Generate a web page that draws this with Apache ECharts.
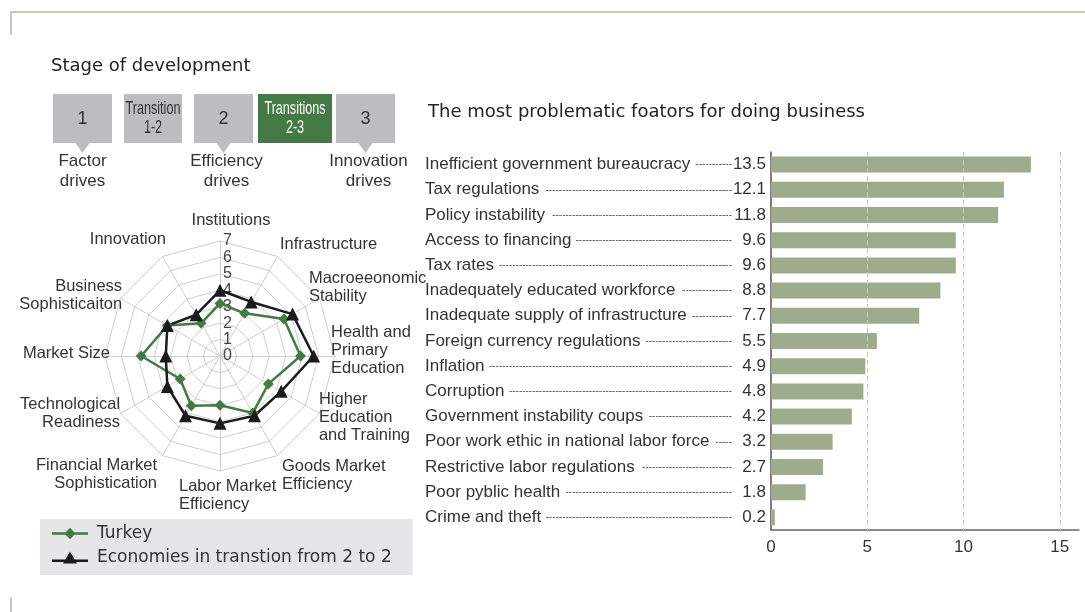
<!DOCTYPE html>
<html>
<head>
<meta charset="utf-8">
<title>Stage of development / problematic factors</title>
<script src="https://cdn.jsdelivr.net/npm/echarts@6/dist/echarts.min.js"></script>
<style>html,body{margin:0;background:#fff;}</style>
</head>
<body>
<div id="main" style="width:1085px;height:612px;"></div>
<script type="text/javascript">
// radar data (clockwise from the top)
var pillars = ['Institutions', 'Infrastructure', 'Macroeeonomic\nStability', 'Health and\nPrimary\nEducation',
    'Higher\nEducation\nand Training', 'Goods Market\nEfficiency', 'Labor Market\nEfficiency',
    'Financial Market\nSophistication', 'Technological\nReadiness', 'Market Size', 'Business\nSophisticaiton', 'Innovation'];
var turkey = [3.2, 3.0, 4.5, 4.9, 3.4, 4.0, 3.0, 3.5, 2.8, 4.8, 3.7, 2.3];
var transition = [4.0, 3.8, 5.1, 5.7, 4.3, 4.2, 4.1, 4.2, 3.7, 3.3, 3.7, 2.9];
var radarTicks = ['0', '1', '2', '3', '4', '5', '6', '7'];

// bar data
var factors = ['Inefficient government bureaucracy', 'Tax regulations', 'Policy instability', 'Access to financing',
    'Tax rates', 'Inadequately educated workforce', 'Inadequate supply of infrastructure', 'Foreign currency regulations',
    'Inflation', 'Corruption', 'Government instability coups', 'Poor work ethic in national labor force',
    'Restrictive labor regulations', 'Poor pyblic health', 'Crime and theft'];
var factorValues = [13.5, 12.1, 11.8, 9.6, 9.6, 8.8, 7.7, 5.5, 4.9, 4.8, 4.2, 3.2, 2.7, 1.8, 0.2];
var barTicks = [0, 5, 10, 15];

// stage boxes
var stages = ['1', 'Transition\n1-2', '2', 'Transitions\n2-3', '3'];
var stageNotes = ['Factor\ndrives', '', 'Efficiency\ndrives', '', 'Innovation\ndrives'];

var FONT = '"Liberation Sans", Arial, sans-serif';
var WIDE = '"DejaVu Sans", sans-serif';
var GREEN = '#437a45';
var myChart = echarts.init(document.getElementById('main'));

// nudges for the pillar names, same order as pillars [top, right, bottom, left]
var namePad = [[0, 0, 4, 22], [-17, 0, 0, 0], [-27, 0, 0, -15], [-33, 0, 0, -9], [-26, 0, 0, -5], [-2, 0, 0, 2],
    [1, 0, 0, -41], [-3, 3, 0, 0], [-21, -4, 0, 0], [-12, -10, 0, 0], [-19, -6, 0, 0], [-22, -6, 0, 0]];

// echarts radar runs counter-clockwise, so walk the list backwards after the first one
var order = [0];
for (var i = pillars.length - 1; i > 0; i--) order.push(i);
function pick(arr) { return order.map(function (k) { return arr[k]; }); }

var indicators = order.map(function (k, n) {
    var ts = { padding: namePad[k] };
    if (k !== 0) ts.verticalAlign = 'top';
    if (k === 6) ts.align = 'left';
    var ind = { name: pillars[k], max: 7, min: 0, nameTextStyle: ts };
    if (n === 0) ind.axisLabel = { show: true };
    return ind;
});

// leader dashes between factor name and value
var ctx = document.createElement('canvas').getContext('2d');
function textW(s, f) { ctx.font = f; return ctx.measureText(s).width; }
var LABEL_W = 341, VAL_W = 34;
var dashW = textW('-', '10px ' + FONT);

function factorLabel(name, idx) {
    var nw = textW(name, '17px ' + FONT);
    var room = Math.max(0, LABEL_W - VAL_W - nw);
    var n = Math.max(0, Math.floor((room - 4) / dashW));
    return '{n|' + name + '}{d' + idx + '|' + new Array(n + 1).join('-') + '}{v|' + factorValues[idx] + '}';
}
var richLabels = {
    n: { fontSize: 17, color: '#333', fontFamily: FONT },
    v: { fontSize: 17, color: '#333', fontFamily: FONT, width: VAL_W, align: 'right' }
};
factors.forEach(function (name, idx) {
    var nw = textW(name, '17px ' + FONT);
    richLabels['d' + idx] = {
        fontSize: 10, color: '#555', fontFamily: FONT,
        width: Math.max(0, LABEL_W - VAL_W - nw), align: 'right'
    };
});

// stage boxes as graphic
var boxX = [53, 124, 194, 258, 336];
var boxW = [59, 58, 59, 74, 59];
var graphics = [
    { type: 'polyline', shape: { points: [[11, 35], [11, 12], [1085, 12]] }, style: { stroke: '#b3baa3', lineWidth: 1.5, fill: null } },
    { type: 'line', shape: { x1: 11, y1: 597, x2: 11, y2: 612 }, style: { stroke: '#b3baa3', lineWidth: 1.5 } },
    { type: 'text', left: 51, top: 57, style: { text: 'Stage of development', font: '18px ' + WIDE, fill: '#222' } }
];
stages.forEach(function (s, i) {
    var hl = i === 3;
    var cx = boxX[i] + boxW[i] / 2;
    graphics.push({ type: 'rect', shape: { x: boxX[i], y: 94, width: boxW[i], height: 49 }, style: { fill: hl ? GREEN : '#bdbdbf' } });
    var big = s.length === 1;
    graphics.push({
        type: 'text', x: cx, y: 119, scaleX: big ? 1 : 0.7, scaleY: 1,
        style: {
            text: s, align: 'center', verticalAlign: 'middle', lineHeight: 19,
            font: '18px ' + FONT,
            fill: hl ? '#fff' : '#333'
        }
    });
    if (stageNotes[i]) {
        graphics.push({ type: 'polygon', shape: { points: [[cx - 7, 143], [cx + 7, 143], [cx, 153]] }, style: { fill: '#bdbdbf' } });
        graphics.push({
            type: 'text', x: cx + (i === 0 ? 0 : 3), y: 151,
            style: { text: stageNotes[i], align: 'center', verticalAlign: 'top', lineHeight: 20, font: '17px ' + FONT, fill: '#333' }
        });
    }
});

var option = {
    animation: false,
    backgroundColor: '#fff',
    textStyle: { fontFamily: FONT },
    graphic: graphics,
    title: {
        text: 'The most problematic foators for doing business',
        left: 423, top: 98,
        textStyle: { fontSize: 18, fontWeight: 'normal', color: '#222', fontFamily: WIDE }
    },
    legend: {
        orient: 'vertical',
        left: 40, top: 519,
        backgroundColor: '#e6e6e8',
        padding: [6, 21, 9, 12],
        itemGap: 7,
        itemWidth: 36, itemHeight: 14,
        textStyle: { fontSize: 17, color: '#333', fontFamily: WIDE, padding: [0, 0, 0, 4] },
        data: [
            { name: 'Turkey', icon: 'path://M0,6 L36,6 L36,8.5 L0,8.5 Z M18,1.5 L23.5,7.2 L18,13 L12.5,7.2 Z' },
            { name: 'Economies in transtion from 2 to 2', icon: 'path://M0,9 L36,9 L36,11.5 L0,11.5 Z M18,1 L25,13 L11,13 Z' }
        ]
    },
    radar: {
        center: [220, 356],
        radius: 115,
        startAngle: 90,
        splitNumber: 7,
        shape: 'polygon',
        axisName: { color: '#333', fontSize: 16.5, lineHeight: 18, fontFamily: FONT },
        nameGap: 5,
        splitLine: { lineStyle: { color: '#cfcfcf', width: 1 } },
        splitArea: { show: false },
        axisLine: { lineStyle: { color: '#cfcfcf', width: 1 } },
        axisTick: { show: false },
        axisLabel: {
            show: false, color: '#444', fontSize: 16, lineHeight: 12, margin: -12,
            showMinLabel: true, showMaxLabel: true, hideOverlap: false,
            formatter: function (v) { return radarTicks[Math.round(v)]; }
        },
        indicator: indicators
    },
    grid: { left: 771, right: 6, top: 152, bottom: 82 },
    xAxis: {
        type: 'value', min: 0, max: 16, interval: 5,
        axisLine: { show: true, lineStyle: { color: '#666', width: 1.5 } },
        axisTick: { show: false },
        splitLine: { show: false },
        axisLabel: {
            color: '#333', fontSize: 17, margin: 9, showMaxLabel: false,
            formatter: function (v) { return barTicks.indexOf(v) >= 0 ? String(v) : ''; }
        }
    },
    yAxis: {
        type: 'category', inverse: true, data: factors,
        axisLine: { show: true, lineStyle: { color: '#555', width: 1.5 } },
        axisTick: { show: false },
        axisLabel: {
            interval: 0, margin: 346, align: 'left',
            formatter: factorLabel,
            rich: richLabels
        }
    },
    series: [
        {
            type: 'radar',
            data: [
                {
                    name: 'Turkey', value: pick(turkey),
                    symbol: 'diamond', symbolSize: 11,
                    lineStyle: { color: GREEN, width: 2.5 },
                    itemStyle: { color: GREEN }
                },
                {
                    name: 'Economies in transtion from 2 to 2', value: pick(transition),
                    symbol: 'triangle', symbolSize: 13,
                    lineStyle: { color: '#1b1b1b', width: 2.5 },
                    itemStyle: { color: '#1b1b1b' }
                }
            ]
        },
        {
            type: 'bar',
            data: factorValues,
            barWidth: 16,
            itemStyle: { color: '#9eab8c' },
            markLine: {
                silent: true, symbol: 'none',
                label: { show: false },
                lineStyle: { color: '#c8c8c8', type: [5, 3], width: 1 },
                data: barTicks.slice(1).map(function (t) { return { xAxis: t }; })
            }
        }
    ]
};

myChart.setOption(option);
</script>
</body>
</html>
